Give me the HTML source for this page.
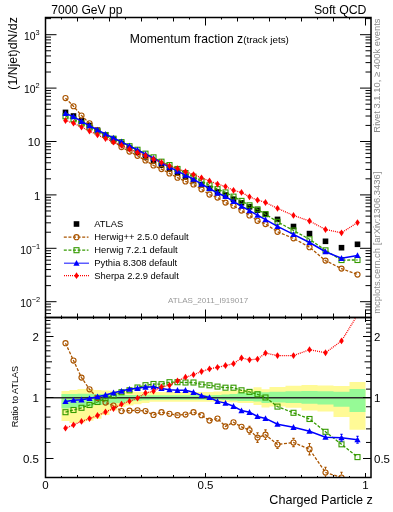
<!DOCTYPE html><html><head><meta charset="utf-8"><style>html,body{margin:0;padding:0;background:#fff;width:393px;height:512px;overflow:hidden;position:relative}</style></head><body><svg width="393" height="512" viewBox="0 0 393 512" style="position:absolute;left:0;top:0;will-change:transform">
<rect x="0" y="0" width="393" height="512" fill="#fff"/>
<path d="M61.50,390.90 L69.50,390.90 L69.50,389.90 L77.50,389.90 L77.50,389.10 L85.50,389.10 L85.50,389.10 L93.50,389.10 L93.50,390.10 L101.50,390.10 L101.50,390.50 L109.50,390.50 L109.50,390.80 L117.50,390.80 L117.50,391.10 L125.50,391.10 L125.50,391.40 L133.50,391.40 L133.50,391.70 L141.50,391.70 L141.50,391.90 L149.50,391.90 L149.50,392.00 L157.50,392.00 L157.50,392.00 L165.50,392.00 L165.50,392.00 L173.50,392.00 L173.50,392.00 L181.50,392.00 L181.50,392.00 L189.50,392.00 L189.50,392.00 L197.50,392.00 L197.50,392.00 L205.50,392.00 L205.50,392.00 L213.50,392.00 L213.50,391.40 L221.50,391.40 L221.50,391.00 L229.50,391.00 L229.50,390.50 L237.50,390.50 L237.50,389.70 L245.50,389.70 L245.50,389.70 L253.50,389.70 L253.50,387.20 L261.50,387.20 L261.50,389.20 L269.50,389.20 L269.50,386.90 L285.50,386.90 L285.50,385.80 L301.50,385.80 L301.50,385.10 L317.50,385.10 L317.50,385.50 L333.50,385.50 L333.50,386.00 L349.50,386.00 L349.50,382.10 L365.50,382.10 L365.50,429.70 L349.50,429.70 L349.50,417.00 L333.50,417.00 L333.50,411.60 L317.50,411.60 L317.50,410.50 L301.50,410.50 L301.50,407.80 L285.50,407.80 L285.50,406.50 L269.50,406.50 L269.50,407.50 L261.50,407.50 L261.50,404.90 L253.50,404.90 L253.50,403.00 L245.50,403.00 L245.50,402.90 L237.50,402.90 L237.50,402.30 L229.50,402.30 L229.50,402.00 L221.50,402.00 L221.50,401.80 L213.50,401.80 L213.50,401.70 L205.50,401.70 L205.50,401.70 L197.50,401.70 L197.50,401.70 L189.50,401.70 L189.50,401.70 L181.50,401.70 L181.50,401.70 L173.50,401.70 L173.50,401.70 L165.50,401.70 L165.50,401.70 L157.50,401.70 L157.50,401.70 L149.50,401.70 L149.50,403.00 L141.50,403.00 L141.50,404.30 L133.50,404.30 L133.50,405.50 L125.50,405.50 L125.50,407.00 L117.50,407.00 L117.50,410.50 L109.50,410.50 L109.50,415.00 L101.50,415.00 L101.50,418.70 L93.50,418.70 L93.50,420.70 L85.50,420.70 L85.50,422.50 L77.50,422.50 L77.50,423.00 L69.50,423.00 L69.50,421.00 L61.50,421.00Z" fill="#fffa96" stroke="none"/>
<path d="M61.50,394.00 L69.50,394.00 L69.50,393.90 L77.50,393.90 L77.50,393.80 L85.50,393.80 L85.50,393.80 L93.50,393.80 L93.50,394.00 L101.50,394.00 L101.50,394.30 L109.50,394.30 L109.50,394.60 L117.50,394.60 L117.50,394.80 L125.50,394.80 L125.50,395.00 L133.50,395.00 L133.50,395.10 L141.50,395.10 L141.50,395.20 L149.50,395.20 L149.50,395.20 L157.50,395.20 L157.50,395.20 L165.50,395.20 L165.50,395.20 L173.50,395.20 L173.50,395.20 L181.50,395.20 L181.50,395.20 L189.50,395.20 L189.50,395.20 L197.50,395.20 L197.50,395.20 L205.50,395.20 L205.50,395.20 L213.50,395.20 L213.50,395.00 L221.50,395.00 L221.50,394.50 L229.50,394.50 L229.50,394.00 L237.50,394.00 L237.50,392.70 L245.50,392.70 L245.50,392.70 L253.50,392.70 L253.50,391.20 L261.50,391.20 L261.50,392.20 L269.50,392.20 L269.50,391.80 L285.50,391.80 L285.50,391.30 L301.50,391.30 L301.50,390.90 L317.50,390.90 L317.50,391.30 L333.50,391.30 L333.50,391.80 L349.50,391.80 L349.50,389.00 L365.50,389.00 L365.50,411.90 L349.50,411.90 L349.50,406.70 L333.50,406.70 L333.50,404.60 L317.50,404.60 L317.50,403.80 L301.50,403.80 L301.50,403.00 L285.50,403.00 L285.50,402.40 L269.50,402.40 L269.50,402.90 L261.50,402.90 L261.50,401.40 L253.50,401.40 L253.50,401.00 L245.50,401.00 L245.50,400.90 L237.50,400.90 L237.50,400.40 L229.50,400.40 L229.50,400.00 L221.50,400.00 L221.50,399.80 L213.50,399.80 L213.50,399.70 L205.50,399.70 L205.50,399.70 L197.50,399.70 L197.50,399.70 L189.50,399.70 L189.50,399.70 L181.50,399.70 L181.50,399.70 L173.50,399.70 L173.50,399.70 L165.50,399.70 L165.50,399.70 L157.50,399.70 L157.50,399.70 L149.50,399.70 L149.50,400.30 L141.50,400.30 L141.50,400.80 L133.50,400.80 L133.50,401.30 L125.50,401.30 L125.50,402.90 L117.50,402.90 L117.50,403.30 L109.50,403.30 L109.50,404.70 L101.50,404.70 L101.50,405.10 L93.50,405.10 L93.50,406.50 L85.50,406.50 L85.50,407.30 L77.50,407.30 L77.50,408.00 L69.50,408.00 L69.50,408.50 L61.50,408.50Z" fill="#96fa96" stroke="none"/>
<line x1="45.5" y1="397.7" x2="371.0" y2="397.7" stroke="#2a2a2a" stroke-width="1.5"/>
<defs><clipPath id="cu"><rect x="45.5" y="17.5" width="325.5" height="300.0"/></clipPath>
<clipPath id="cl"><rect x="45.5" y="317.5" width="325.5" height="160.0"/></clipPath></defs>
<g clip-path="url(#cu)">
<rect x="62.70" y="109.60" width="5.6" height="5.6" fill="#000"/>
<rect x="70.70" y="113.20" width="5.6" height="5.6" fill="#000"/>
<rect x="78.70" y="118.00" width="5.6" height="5.6" fill="#000"/>
<rect x="86.70" y="122.70" width="5.6" height="5.6" fill="#000"/>
<rect x="94.70" y="127.40" width="5.6" height="5.6" fill="#000"/>
<rect x="102.70" y="132.00" width="5.6" height="5.6" fill="#000"/>
<rect x="110.70" y="136.40" width="5.6" height="5.6" fill="#000"/>
<rect x="118.70" y="140.70" width="5.6" height="5.6" fill="#000"/>
<rect x="126.70" y="145.30" width="5.6" height="5.6" fill="#000"/>
<rect x="134.70" y="149.60" width="5.6" height="5.6" fill="#000"/>
<rect x="142.70" y="154.10" width="5.6" height="5.6" fill="#000"/>
<rect x="150.70" y="158.10" width="5.6" height="5.6" fill="#000"/>
<rect x="158.70" y="162.40" width="5.6" height="5.6" fill="#000"/>
<rect x="166.70" y="166.30" width="5.6" height="5.6" fill="#000"/>
<rect x="174.70" y="170.20" width="5.6" height="5.6" fill="#000"/>
<rect x="182.70" y="174.20" width="5.6" height="5.6" fill="#000"/>
<rect x="190.70" y="177.80" width="5.6" height="5.6" fill="#000"/>
<rect x="198.70" y="181.90" width="5.6" height="5.6" fill="#000"/>
<rect x="206.70" y="185.70" width="5.6" height="5.6" fill="#000"/>
<rect x="214.70" y="189.20" width="5.6" height="5.6" fill="#000"/>
<rect x="222.70" y="192.20" width="5.6" height="5.6" fill="#000"/>
<rect x="230.70" y="196.40" width="5.6" height="5.6" fill="#000"/>
<rect x="238.70" y="200.00" width="5.6" height="5.6" fill="#000"/>
<rect x="246.70" y="204.00" width="5.6" height="5.6" fill="#000"/>
<rect x="254.70" y="207.40" width="5.6" height="5.6" fill="#000"/>
<rect x="262.70" y="211.40" width="5.6" height="5.6" fill="#000"/>
<rect x="274.70" y="216.60" width="5.6" height="5.6" fill="#000"/>
<rect x="290.70" y="223.70" width="5.6" height="5.6" fill="#000"/>
<rect x="306.70" y="230.80" width="5.6" height="5.6" fill="#000"/>
<rect x="322.70" y="238.50" width="5.6" height="5.6" fill="#000"/>
<rect x="338.70" y="244.90" width="5.6" height="5.6" fill="#000"/>
<rect x="354.70" y="241.50" width="5.6" height="5.6" fill="#000"/>
<path d="M65.50,98.09 L73.50,106.25 L81.50,115.55 L89.50,123.34 L97.50,130.33 L105.50,136.14 L113.50,141.31 L121.50,147.06 L129.50,151.55 L137.50,155.77 L145.50,160.46 L153.50,165.49 L161.50,169.07 L169.50,173.40 L177.50,177.67 L185.50,181.48 L193.50,184.47 L201.50,189.37 L209.50,194.59 L217.50,197.54 L225.50,202.62 L233.50,205.74 L241.50,210.52 L249.50,215.42 L257.50,220.77 L265.50,224.00 L277.50,231.79 L293.50,238.36 L309.50,247.23 L325.50,260.60 L341.50,268.60 L357.50,274.50" fill="none" stroke="#aa5500" stroke-width="1.3" stroke-dasharray="3,1.6" clip-path="url(#cu)"/>
<circle cx="65.50" cy="98.09" r="2.55" fill="none" stroke="#aa5500" stroke-width="1.15"/>
<circle cx="73.50" cy="106.25" r="2.55" fill="none" stroke="#aa5500" stroke-width="1.15"/>
<circle cx="81.50" cy="115.55" r="2.55" fill="none" stroke="#aa5500" stroke-width="1.15"/>
<circle cx="89.50" cy="123.34" r="2.55" fill="none" stroke="#aa5500" stroke-width="1.15"/>
<circle cx="97.50" cy="130.33" r="2.55" fill="none" stroke="#aa5500" stroke-width="1.15"/>
<circle cx="105.50" cy="136.14" r="2.55" fill="none" stroke="#aa5500" stroke-width="1.15"/>
<circle cx="113.50" cy="141.31" r="2.55" fill="none" stroke="#aa5500" stroke-width="1.15"/>
<circle cx="121.50" cy="147.06" r="2.55" fill="none" stroke="#aa5500" stroke-width="1.15"/>
<circle cx="129.50" cy="151.55" r="2.55" fill="none" stroke="#aa5500" stroke-width="1.15"/>
<circle cx="137.50" cy="155.77" r="2.55" fill="none" stroke="#aa5500" stroke-width="1.15"/>
<circle cx="145.50" cy="160.46" r="2.55" fill="none" stroke="#aa5500" stroke-width="1.15"/>
<circle cx="153.50" cy="165.49" r="2.55" fill="none" stroke="#aa5500" stroke-width="1.15"/>
<circle cx="161.50" cy="169.07" r="2.55" fill="none" stroke="#aa5500" stroke-width="1.15"/>
<circle cx="169.50" cy="173.40" r="2.55" fill="none" stroke="#aa5500" stroke-width="1.15"/>
<circle cx="177.50" cy="177.67" r="2.55" fill="none" stroke="#aa5500" stroke-width="1.15"/>
<circle cx="185.50" cy="181.48" r="2.55" fill="none" stroke="#aa5500" stroke-width="1.15"/>
<circle cx="193.50" cy="184.47" r="2.55" fill="none" stroke="#aa5500" stroke-width="1.15"/>
<circle cx="201.50" cy="189.37" r="2.55" fill="none" stroke="#aa5500" stroke-width="1.15"/>
<circle cx="209.50" cy="194.59" r="2.55" fill="none" stroke="#aa5500" stroke-width="1.15"/>
<circle cx="217.50" cy="197.54" r="2.55" fill="none" stroke="#aa5500" stroke-width="1.15"/>
<circle cx="225.50" cy="202.62" r="2.55" fill="none" stroke="#aa5500" stroke-width="1.15"/>
<circle cx="233.50" cy="205.74" r="2.55" fill="none" stroke="#aa5500" stroke-width="1.15"/>
<circle cx="241.50" cy="210.52" r="2.55" fill="none" stroke="#aa5500" stroke-width="1.15"/>
<circle cx="249.50" cy="215.42" r="2.55" fill="none" stroke="#aa5500" stroke-width="1.15"/>
<circle cx="257.50" cy="220.77" r="2.55" fill="none" stroke="#aa5500" stroke-width="1.15"/>
<circle cx="265.50" cy="224.00" r="2.55" fill="none" stroke="#aa5500" stroke-width="1.15"/>
<circle cx="277.50" cy="231.79" r="2.55" fill="none" stroke="#aa5500" stroke-width="1.15"/>
<circle cx="293.50" cy="238.36" r="2.55" fill="none" stroke="#aa5500" stroke-width="1.15"/>
<circle cx="309.50" cy="247.23" r="2.55" fill="none" stroke="#aa5500" stroke-width="1.15"/>
<circle cx="325.50" cy="260.60" r="2.55" fill="none" stroke="#aa5500" stroke-width="1.15"/>
<circle cx="341.50" cy="268.60" r="2.55" fill="none" stroke="#aa5500" stroke-width="1.15"/>
<circle cx="357.50" cy="274.50" r="2.55" fill="none" stroke="#aa5500" stroke-width="1.15"/>
<path d="M65.50,116.27 L73.50,119.29 L81.50,123.51 L89.50,127.48 L97.50,131.39 L105.50,135.01 L113.50,138.70 L121.50,142.10 L129.50,146.20 L137.50,149.76 L145.50,153.66 L153.50,157.34 L161.50,161.69 L169.50,165.07 L177.50,168.97 L185.50,173.05 L193.50,176.65 L201.50,181.27 L209.50,185.28 L217.50,189.13 L225.50,192.42 L233.50,196.62 L241.50,200.90 L249.50,205.32 L257.50,209.36 L265.50,214.20 L277.50,221.80 L293.50,230.53 L309.50,239.27 L325.50,250.34 L341.50,260.04 L357.50,260.01" fill="none" stroke="#359a00" stroke-width="1.3" stroke-dasharray="3,1.6" clip-path="url(#cu)"/>
<rect x="63.00" y="113.77" width="5" height="5" fill="none" stroke="#359a00" stroke-width="1.1"/>
<rect x="71.00" y="116.79" width="5" height="5" fill="none" stroke="#359a00" stroke-width="1.1"/>
<rect x="79.00" y="121.01" width="5" height="5" fill="none" stroke="#359a00" stroke-width="1.1"/>
<rect x="87.00" y="124.98" width="5" height="5" fill="none" stroke="#359a00" stroke-width="1.1"/>
<rect x="95.00" y="128.89" width="5" height="5" fill="none" stroke="#359a00" stroke-width="1.1"/>
<rect x="103.00" y="132.51" width="5" height="5" fill="none" stroke="#359a00" stroke-width="1.1"/>
<rect x="111.00" y="136.20" width="5" height="5" fill="none" stroke="#359a00" stroke-width="1.1"/>
<rect x="119.00" y="139.60" width="5" height="5" fill="none" stroke="#359a00" stroke-width="1.1"/>
<rect x="127.00" y="143.70" width="5" height="5" fill="none" stroke="#359a00" stroke-width="1.1"/>
<rect x="135.00" y="147.26" width="5" height="5" fill="none" stroke="#359a00" stroke-width="1.1"/>
<rect x="143.00" y="151.16" width="5" height="5" fill="none" stroke="#359a00" stroke-width="1.1"/>
<rect x="151.00" y="154.84" width="5" height="5" fill="none" stroke="#359a00" stroke-width="1.1"/>
<rect x="159.00" y="159.19" width="5" height="5" fill="none" stroke="#359a00" stroke-width="1.1"/>
<rect x="167.00" y="162.57" width="5" height="5" fill="none" stroke="#359a00" stroke-width="1.1"/>
<rect x="175.00" y="166.47" width="5" height="5" fill="none" stroke="#359a00" stroke-width="1.1"/>
<rect x="183.00" y="170.55" width="5" height="5" fill="none" stroke="#359a00" stroke-width="1.1"/>
<rect x="191.00" y="174.15" width="5" height="5" fill="none" stroke="#359a00" stroke-width="1.1"/>
<rect x="199.00" y="178.77" width="5" height="5" fill="none" stroke="#359a00" stroke-width="1.1"/>
<rect x="207.00" y="182.78" width="5" height="5" fill="none" stroke="#359a00" stroke-width="1.1"/>
<rect x="215.00" y="186.63" width="5" height="5" fill="none" stroke="#359a00" stroke-width="1.1"/>
<rect x="223.00" y="189.92" width="5" height="5" fill="none" stroke="#359a00" stroke-width="1.1"/>
<rect x="231.00" y="194.12" width="5" height="5" fill="none" stroke="#359a00" stroke-width="1.1"/>
<rect x="239.00" y="198.40" width="5" height="5" fill="none" stroke="#359a00" stroke-width="1.1"/>
<rect x="247.00" y="202.82" width="5" height="5" fill="none" stroke="#359a00" stroke-width="1.1"/>
<rect x="255.00" y="206.86" width="5" height="5" fill="none" stroke="#359a00" stroke-width="1.1"/>
<rect x="263.00" y="211.70" width="5" height="5" fill="none" stroke="#359a00" stroke-width="1.1"/>
<rect x="275.00" y="219.30" width="5" height="5" fill="none" stroke="#359a00" stroke-width="1.1"/>
<rect x="291.00" y="228.03" width="5" height="5" fill="none" stroke="#359a00" stroke-width="1.1"/>
<rect x="307.00" y="236.77" width="5" height="5" fill="none" stroke="#359a00" stroke-width="1.1"/>
<rect x="323.00" y="247.84" width="5" height="5" fill="none" stroke="#359a00" stroke-width="1.1"/>
<rect x="339.00" y="257.54" width="5" height="5" fill="none" stroke="#359a00" stroke-width="1.1"/>
<rect x="355.00" y="257.51" width="5" height="5" fill="none" stroke="#359a00" stroke-width="1.1"/>
<path d="M65.50,113.43 L73.50,116.71 L81.50,121.41 L89.50,125.74 L97.50,129.99 L105.50,134.11 L113.50,137.96 L121.50,141.81 L129.50,145.89 L137.50,149.98 L145.50,154.16 L153.50,158.11 L161.50,162.80 L169.50,167.04 L177.50,171.10 L185.50,175.10 L193.50,179.23 L201.50,184.20 L209.50,188.50 L217.50,193.03 L225.50,196.48 L233.50,201.52 L241.50,206.25 L249.50,210.70 L257.50,215.21 L265.50,219.71 L277.50,226.44 L293.50,234.35 L309.50,242.48 L325.50,251.76 L341.50,258.30 L357.50,255.42" fill="none" stroke="#0000ff" stroke-width="1.5" stroke-dasharray="none" clip-path="url(#cu)"/>
<path d="M65.50,110.23 L68.60,116.03 L62.40,116.03Z" fill="#0000ff"/>
<path d="M73.50,113.51 L76.60,119.31 L70.40,119.31Z" fill="#0000ff"/>
<path d="M81.50,118.21 L84.60,124.01 L78.40,124.01Z" fill="#0000ff"/>
<path d="M89.50,122.54 L92.60,128.34 L86.40,128.34Z" fill="#0000ff"/>
<path d="M97.50,126.79 L100.60,132.59 L94.40,132.59Z" fill="#0000ff"/>
<path d="M105.50,130.91 L108.60,136.71 L102.40,136.71Z" fill="#0000ff"/>
<path d="M113.50,134.76 L116.60,140.56 L110.40,140.56Z" fill="#0000ff"/>
<path d="M121.50,138.61 L124.60,144.41 L118.40,144.41Z" fill="#0000ff"/>
<path d="M129.50,142.69 L132.60,148.49 L126.40,148.49Z" fill="#0000ff"/>
<path d="M137.50,146.78 L140.60,152.58 L134.40,152.58Z" fill="#0000ff"/>
<path d="M145.50,150.96 L148.60,156.76 L142.40,156.76Z" fill="#0000ff"/>
<path d="M153.50,154.91 L156.60,160.71 L150.40,160.71Z" fill="#0000ff"/>
<path d="M161.50,159.60 L164.60,165.40 L158.40,165.40Z" fill="#0000ff"/>
<path d="M169.50,163.84 L172.60,169.64 L166.40,169.64Z" fill="#0000ff"/>
<path d="M177.50,167.90 L180.60,173.70 L174.40,173.70Z" fill="#0000ff"/>
<path d="M185.50,171.90 L188.60,177.70 L182.40,177.70Z" fill="#0000ff"/>
<path d="M193.50,176.03 L196.60,181.83 L190.40,181.83Z" fill="#0000ff"/>
<path d="M201.50,181.00 L204.60,186.80 L198.40,186.80Z" fill="#0000ff"/>
<path d="M209.50,185.30 L212.60,191.10 L206.40,191.10Z" fill="#0000ff"/>
<path d="M217.50,189.83 L220.60,195.63 L214.40,195.63Z" fill="#0000ff"/>
<path d="M225.50,193.28 L228.60,199.08 L222.40,199.08Z" fill="#0000ff"/>
<path d="M233.50,198.32 L236.60,204.12 L230.40,204.12Z" fill="#0000ff"/>
<path d="M241.50,203.05 L244.60,208.85 L238.40,208.85Z" fill="#0000ff"/>
<path d="M249.50,207.50 L252.60,213.30 L246.40,213.30Z" fill="#0000ff"/>
<path d="M257.50,212.01 L260.60,217.81 L254.40,217.81Z" fill="#0000ff"/>
<path d="M265.50,216.51 L268.60,222.31 L262.40,222.31Z" fill="#0000ff"/>
<path d="M277.50,223.24 L280.60,229.04 L274.40,229.04Z" fill="#0000ff"/>
<path d="M293.50,231.15 L296.60,236.95 L290.40,236.95Z" fill="#0000ff"/>
<path d="M309.50,239.28 L312.60,245.08 L306.40,245.08Z" fill="#0000ff"/>
<path d="M325.50,248.56 L328.60,254.36 L322.40,254.36Z" fill="#0000ff"/>
<path d="M341.50,255.10 L344.60,260.90 L338.40,260.90Z" fill="#0000ff"/>
<path d="M357.50,252.22 L360.60,258.02 L354.40,258.02Z" fill="#0000ff"/>
<path d="M65.50,120.49 L73.50,123.22 L81.50,127.10 L89.50,131.06 L97.50,134.94 L105.50,138.62 L113.50,142.10 L121.50,145.27 L129.50,149.08 L137.50,152.58 L145.50,155.71 L153.50,159.24 L161.50,162.41 L169.50,165.88 L177.50,168.62 L185.50,171.65 L193.50,174.59 L201.50,177.85 L209.50,180.96 L217.50,184.04 L225.50,186.57 L233.50,190.29 L241.50,192.39 L249.50,196.86 L257.50,200.08 L265.50,202.50 L277.50,208.36 L293.50,215.46 L309.50,221.00 L325.50,229.51 L341.50,232.78 L357.50,222.53" fill="none" stroke="#ff0000" stroke-width="1.3" stroke-dasharray="1,1" clip-path="url(#cu)"/>
<path d="M65.50,117.09 L67.80,120.49 L65.50,123.89 L63.20,120.49Z" fill="#ff0000"/>
<path d="M73.50,119.82 L75.80,123.22 L73.50,126.62 L71.20,123.22Z" fill="#ff0000"/>
<path d="M81.50,123.70 L83.80,127.10 L81.50,130.50 L79.20,127.10Z" fill="#ff0000"/>
<path d="M89.50,127.66 L91.80,131.06 L89.50,134.46 L87.20,131.06Z" fill="#ff0000"/>
<path d="M97.50,131.54 L99.80,134.94 L97.50,138.34 L95.20,134.94Z" fill="#ff0000"/>
<path d="M105.50,135.22 L107.80,138.62 L105.50,142.02 L103.20,138.62Z" fill="#ff0000"/>
<path d="M113.50,138.70 L115.80,142.10 L113.50,145.50 L111.20,142.10Z" fill="#ff0000"/>
<path d="M121.50,141.87 L123.80,145.27 L121.50,148.67 L119.20,145.27Z" fill="#ff0000"/>
<path d="M129.50,145.68 L131.80,149.08 L129.50,152.48 L127.20,149.08Z" fill="#ff0000"/>
<path d="M137.50,149.18 L139.80,152.58 L137.50,155.98 L135.20,152.58Z" fill="#ff0000"/>
<path d="M145.50,152.31 L147.80,155.71 L145.50,159.11 L143.20,155.71Z" fill="#ff0000"/>
<path d="M153.50,155.84 L155.80,159.24 L153.50,162.64 L151.20,159.24Z" fill="#ff0000"/>
<path d="M161.50,159.01 L163.80,162.41 L161.50,165.81 L159.20,162.41Z" fill="#ff0000"/>
<path d="M169.50,162.48 L171.80,165.88 L169.50,169.28 L167.20,165.88Z" fill="#ff0000"/>
<path d="M177.50,165.22 L179.80,168.62 L177.50,172.02 L175.20,168.62Z" fill="#ff0000"/>
<path d="M185.50,168.25 L187.80,171.65 L185.50,175.05 L183.20,171.65Z" fill="#ff0000"/>
<path d="M193.50,171.19 L195.80,174.59 L193.50,177.99 L191.20,174.59Z" fill="#ff0000"/>
<path d="M201.50,174.45 L203.80,177.85 L201.50,181.25 L199.20,177.85Z" fill="#ff0000"/>
<path d="M209.50,177.56 L211.80,180.96 L209.50,184.36 L207.20,180.96Z" fill="#ff0000"/>
<path d="M217.50,180.64 L219.80,184.04 L217.50,187.44 L215.20,184.04Z" fill="#ff0000"/>
<path d="M225.50,183.17 L227.80,186.57 L225.50,189.97 L223.20,186.57Z" fill="#ff0000"/>
<path d="M233.50,186.89 L235.80,190.29 L233.50,193.69 L231.20,190.29Z" fill="#ff0000"/>
<path d="M241.50,188.99 L243.80,192.39 L241.50,195.79 L239.20,192.39Z" fill="#ff0000"/>
<path d="M249.50,193.46 L251.80,196.86 L249.50,200.26 L247.20,196.86Z" fill="#ff0000"/>
<path d="M257.50,196.68 L259.80,200.08 L257.50,203.48 L255.20,200.08Z" fill="#ff0000"/>
<path d="M265.50,199.10 L267.80,202.50 L265.50,205.90 L263.20,202.50Z" fill="#ff0000"/>
<path d="M277.50,204.96 L279.80,208.36 L277.50,211.76 L275.20,208.36Z" fill="#ff0000"/>
<path d="M293.50,212.06 L295.80,215.46 L293.50,218.86 L291.20,215.46Z" fill="#ff0000"/>
<path d="M309.50,217.60 L311.80,221.00 L309.50,224.40 L307.20,221.00Z" fill="#ff0000"/>
<path d="M325.50,226.11 L327.80,229.51 L325.50,232.91 L323.20,229.51Z" fill="#ff0000"/>
<path d="M341.50,229.38 L343.80,232.78 L341.50,236.18 L339.20,232.78Z" fill="#ff0000"/>
<path d="M357.50,219.13 L359.80,222.53 L357.50,225.93 L355.20,222.53Z" fill="#ff0000"/>
</g>
<g clip-path="url(#cl)">
<path d="M65.50,343.20 L73.50,360.50 L81.50,377.60 L89.50,389.30 L97.50,398.00 L105.50,402.60 L113.50,405.50 L121.50,411.00 L129.50,410.60 L137.50,410.30 L145.50,411.00 L153.50,414.90 L161.50,412.20 L169.50,413.80 L177.50,415.20 L185.50,414.50 L193.50,412.20 L201.50,415.20 L209.50,420.60 L217.50,418.50 L225.50,426.40 L233.50,422.30 L241.50,426.80 L249.50,430.20 L257.50,437.60 L265.50,434.70 L277.50,444.50 L293.50,442.50 L309.50,449.20 L325.50,472.50 L341.50,477.50" fill="none" stroke="#aa5500" stroke-width="1.3" stroke-dasharray="3,1.6" clip-path="url(#cl)"/>
<circle cx="65.50" cy="343.20" r="2.55" fill="none" stroke="#aa5500" stroke-width="1.15"/>
<circle cx="73.50" cy="360.50" r="2.55" fill="none" stroke="#aa5500" stroke-width="1.15"/>
<circle cx="81.50" cy="377.60" r="2.55" fill="none" stroke="#aa5500" stroke-width="1.15"/>
<circle cx="89.50" cy="389.30" r="2.55" fill="none" stroke="#aa5500" stroke-width="1.15"/>
<circle cx="97.50" cy="398.00" r="2.55" fill="none" stroke="#aa5500" stroke-width="1.15"/>
<circle cx="105.50" cy="402.60" r="2.55" fill="none" stroke="#aa5500" stroke-width="1.15"/>
<circle cx="113.50" cy="405.50" r="2.55" fill="none" stroke="#aa5500" stroke-width="1.15"/>
<circle cx="121.50" cy="411.00" r="2.55" fill="none" stroke="#aa5500" stroke-width="1.15"/>
<circle cx="129.50" cy="410.60" r="2.55" fill="none" stroke="#aa5500" stroke-width="1.15"/>
<circle cx="137.50" cy="410.30" r="2.55" fill="none" stroke="#aa5500" stroke-width="1.15"/>
<circle cx="145.50" cy="411.00" r="2.55" fill="none" stroke="#aa5500" stroke-width="1.15"/>
<circle cx="153.50" cy="414.90" r="2.55" fill="none" stroke="#aa5500" stroke-width="1.15"/>
<circle cx="161.50" cy="412.20" r="2.55" fill="none" stroke="#aa5500" stroke-width="1.15"/>
<circle cx="169.50" cy="413.80" r="2.55" fill="none" stroke="#aa5500" stroke-width="1.15"/>
<circle cx="177.50" cy="415.20" r="2.55" fill="none" stroke="#aa5500" stroke-width="1.15"/>
<circle cx="185.50" cy="414.50" r="2.55" fill="none" stroke="#aa5500" stroke-width="1.15"/>
<circle cx="193.50" cy="412.20" r="2.55" fill="none" stroke="#aa5500" stroke-width="1.15"/>
<circle cx="201.50" cy="415.20" r="2.55" fill="none" stroke="#aa5500" stroke-width="1.15"/>
<circle cx="209.50" cy="420.60" r="2.55" fill="none" stroke="#aa5500" stroke-width="1.15"/>
<circle cx="217.50" cy="418.50" r="2.55" fill="none" stroke="#aa5500" stroke-width="1.15"/>
<circle cx="225.50" cy="426.40" r="2.55" fill="none" stroke="#aa5500" stroke-width="1.15"/>
<circle cx="233.50" cy="422.30" r="2.55" fill="none" stroke="#aa5500" stroke-width="1.15"/>
<circle cx="241.50" cy="426.80" r="2.55" fill="none" stroke="#aa5500" stroke-width="1.15"/>
<circle cx="249.50" cy="430.20" r="2.55" fill="none" stroke="#aa5500" stroke-width="1.15"/>
<circle cx="257.50" cy="437.60" r="2.55" fill="none" stroke="#aa5500" stroke-width="1.15"/>
<circle cx="265.50" cy="434.70" r="2.55" fill="none" stroke="#aa5500" stroke-width="1.15"/>
<circle cx="277.50" cy="444.50" r="2.55" fill="none" stroke="#aa5500" stroke-width="1.15"/>
<circle cx="293.50" cy="442.50" r="2.55" fill="none" stroke="#aa5500" stroke-width="1.15"/>
<circle cx="309.50" cy="449.20" r="2.55" fill="none" stroke="#aa5500" stroke-width="1.15"/>
<circle cx="325.50" cy="472.50" r="2.55" fill="none" stroke="#aa5500" stroke-width="1.15"/>
<circle cx="341.50" cy="477.50" r="2.55" fill="none" stroke="#aa5500" stroke-width="1.15"/>
<path d="M65.50,412.20 L73.50,410.00 L81.50,407.80 L89.50,405.00 L97.50,402.00 L105.50,398.30 L113.50,395.60 L121.50,392.20 L129.50,390.30 L137.50,387.50 L145.50,385.20 L153.50,384.00 L161.50,384.20 L169.50,382.20 L177.50,382.20 L185.50,382.50 L193.50,382.50 L201.50,384.50 L209.50,385.30 L217.50,386.60 L225.50,387.70 L233.50,387.70 L241.50,390.30 L249.50,391.90 L257.50,394.30 L265.50,397.50 L277.50,406.60 L293.50,412.80 L309.50,419.00 L325.50,431.80 L341.50,444.30 L357.50,457.10" fill="none" stroke="#359a00" stroke-width="1.3" stroke-dasharray="3,1.6" clip-path="url(#cl)"/>
<rect x="63.00" y="409.70" width="5" height="5" fill="none" stroke="#359a00" stroke-width="1.1"/>
<rect x="71.00" y="407.50" width="5" height="5" fill="none" stroke="#359a00" stroke-width="1.1"/>
<rect x="79.00" y="405.30" width="5" height="5" fill="none" stroke="#359a00" stroke-width="1.1"/>
<rect x="87.00" y="402.50" width="5" height="5" fill="none" stroke="#359a00" stroke-width="1.1"/>
<rect x="95.00" y="399.50" width="5" height="5" fill="none" stroke="#359a00" stroke-width="1.1"/>
<rect x="103.00" y="395.80" width="5" height="5" fill="none" stroke="#359a00" stroke-width="1.1"/>
<rect x="111.00" y="393.10" width="5" height="5" fill="none" stroke="#359a00" stroke-width="1.1"/>
<rect x="119.00" y="389.70" width="5" height="5" fill="none" stroke="#359a00" stroke-width="1.1"/>
<rect x="127.00" y="387.80" width="5" height="5" fill="none" stroke="#359a00" stroke-width="1.1"/>
<rect x="135.00" y="385.00" width="5" height="5" fill="none" stroke="#359a00" stroke-width="1.1"/>
<rect x="143.00" y="382.70" width="5" height="5" fill="none" stroke="#359a00" stroke-width="1.1"/>
<rect x="151.00" y="381.50" width="5" height="5" fill="none" stroke="#359a00" stroke-width="1.1"/>
<rect x="159.00" y="381.70" width="5" height="5" fill="none" stroke="#359a00" stroke-width="1.1"/>
<rect x="167.00" y="379.70" width="5" height="5" fill="none" stroke="#359a00" stroke-width="1.1"/>
<rect x="175.00" y="379.70" width="5" height="5" fill="none" stroke="#359a00" stroke-width="1.1"/>
<rect x="183.00" y="380.00" width="5" height="5" fill="none" stroke="#359a00" stroke-width="1.1"/>
<rect x="191.00" y="380.00" width="5" height="5" fill="none" stroke="#359a00" stroke-width="1.1"/>
<rect x="199.00" y="382.00" width="5" height="5" fill="none" stroke="#359a00" stroke-width="1.1"/>
<rect x="207.00" y="382.80" width="5" height="5" fill="none" stroke="#359a00" stroke-width="1.1"/>
<rect x="215.00" y="384.10" width="5" height="5" fill="none" stroke="#359a00" stroke-width="1.1"/>
<rect x="223.00" y="385.20" width="5" height="5" fill="none" stroke="#359a00" stroke-width="1.1"/>
<rect x="231.00" y="385.20" width="5" height="5" fill="none" stroke="#359a00" stroke-width="1.1"/>
<rect x="239.00" y="387.80" width="5" height="5" fill="none" stroke="#359a00" stroke-width="1.1"/>
<rect x="247.00" y="389.40" width="5" height="5" fill="none" stroke="#359a00" stroke-width="1.1"/>
<rect x="255.00" y="391.80" width="5" height="5" fill="none" stroke="#359a00" stroke-width="1.1"/>
<rect x="263.00" y="395.00" width="5" height="5" fill="none" stroke="#359a00" stroke-width="1.1"/>
<rect x="275.00" y="404.10" width="5" height="5" fill="none" stroke="#359a00" stroke-width="1.1"/>
<rect x="291.00" y="410.30" width="5" height="5" fill="none" stroke="#359a00" stroke-width="1.1"/>
<rect x="307.00" y="416.50" width="5" height="5" fill="none" stroke="#359a00" stroke-width="1.1"/>
<rect x="323.00" y="429.30" width="5" height="5" fill="none" stroke="#359a00" stroke-width="1.1"/>
<rect x="339.00" y="441.80" width="5" height="5" fill="none" stroke="#359a00" stroke-width="1.1"/>
<rect x="355.00" y="454.60" width="5" height="5" fill="none" stroke="#359a00" stroke-width="1.1"/>
<path d="M65.50,401.40 L73.50,400.20 L81.50,399.80 L89.50,398.40 L97.50,396.70 L105.50,394.90 L113.50,392.80 L121.50,391.10 L129.50,389.10 L137.50,388.30 L145.50,387.10 L153.50,386.90 L161.50,388.40 L169.50,389.70 L177.50,390.30 L185.50,390.30 L193.50,392.30 L201.50,395.60 L209.50,397.50 L217.50,401.40 L225.50,403.10 L233.50,406.30 L241.50,410.60 L249.50,412.30 L257.50,416.50 L265.50,418.40 L277.50,424.20 L293.50,427.30 L309.50,431.20 L325.50,437.20 L341.50,437.70 L357.50,439.70" fill="none" stroke="#0000ff" stroke-width="1.5" stroke-dasharray="none" clip-path="url(#cl)"/>
<path d="M65.50,398.20 L68.60,404.00 L62.40,404.00Z" fill="#0000ff"/>
<path d="M73.50,397.00 L76.60,402.80 L70.40,402.80Z" fill="#0000ff"/>
<path d="M81.50,396.60 L84.60,402.40 L78.40,402.40Z" fill="#0000ff"/>
<path d="M89.50,395.20 L92.60,401.00 L86.40,401.00Z" fill="#0000ff"/>
<path d="M97.50,393.50 L100.60,399.30 L94.40,399.30Z" fill="#0000ff"/>
<path d="M105.50,391.70 L108.60,397.50 L102.40,397.50Z" fill="#0000ff"/>
<path d="M113.50,389.60 L116.60,395.40 L110.40,395.40Z" fill="#0000ff"/>
<path d="M121.50,387.90 L124.60,393.70 L118.40,393.70Z" fill="#0000ff"/>
<path d="M129.50,385.90 L132.60,391.70 L126.40,391.70Z" fill="#0000ff"/>
<path d="M137.50,385.10 L140.60,390.90 L134.40,390.90Z" fill="#0000ff"/>
<path d="M145.50,383.90 L148.60,389.70 L142.40,389.70Z" fill="#0000ff"/>
<path d="M153.50,383.70 L156.60,389.50 L150.40,389.50Z" fill="#0000ff"/>
<path d="M161.50,385.20 L164.60,391.00 L158.40,391.00Z" fill="#0000ff"/>
<path d="M169.50,386.50 L172.60,392.30 L166.40,392.30Z" fill="#0000ff"/>
<path d="M177.50,387.10 L180.60,392.90 L174.40,392.90Z" fill="#0000ff"/>
<path d="M185.50,387.10 L188.60,392.90 L182.40,392.90Z" fill="#0000ff"/>
<path d="M193.50,389.10 L196.60,394.90 L190.40,394.90Z" fill="#0000ff"/>
<path d="M201.50,392.40 L204.60,398.20 L198.40,398.20Z" fill="#0000ff"/>
<path d="M209.50,394.30 L212.60,400.10 L206.40,400.10Z" fill="#0000ff"/>
<path d="M217.50,398.20 L220.60,404.00 L214.40,404.00Z" fill="#0000ff"/>
<path d="M225.50,399.90 L228.60,405.70 L222.40,405.70Z" fill="#0000ff"/>
<path d="M233.50,403.10 L236.60,408.90 L230.40,408.90Z" fill="#0000ff"/>
<path d="M241.50,407.40 L244.60,413.20 L238.40,413.20Z" fill="#0000ff"/>
<path d="M249.50,409.10 L252.60,414.90 L246.40,414.90Z" fill="#0000ff"/>
<path d="M257.50,413.30 L260.60,419.10 L254.40,419.10Z" fill="#0000ff"/>
<path d="M265.50,415.20 L268.60,421.00 L262.40,421.00Z" fill="#0000ff"/>
<path d="M277.50,421.00 L280.60,426.80 L274.40,426.80Z" fill="#0000ff"/>
<path d="M293.50,424.10 L296.60,429.90 L290.40,429.90Z" fill="#0000ff"/>
<path d="M309.50,428.00 L312.60,433.80 L306.40,433.80Z" fill="#0000ff"/>
<path d="M325.50,434.00 L328.60,439.80 L322.40,439.80Z" fill="#0000ff"/>
<path d="M341.50,434.50 L344.60,440.30 L338.40,440.30Z" fill="#0000ff"/>
<path d="M357.50,436.50 L360.60,442.30 L354.40,442.30Z" fill="#0000ff"/>
<path d="M65.50,428.20 L73.50,424.90 L81.50,421.40 L89.50,418.60 L97.50,415.50 L105.50,412.00 L113.50,408.50 L121.50,404.20 L129.50,401.20 L137.50,398.20 L145.50,393.00 L153.50,391.20 L161.50,386.90 L169.50,385.30 L177.50,380.90 L185.50,377.20 L193.50,374.70 L201.50,371.50 L209.50,368.90 L217.50,367.30 L225.50,365.50 L233.50,363.70 L241.50,358.00 L249.50,359.80 L257.50,359.10 L265.50,353.10 L277.50,355.60 L293.50,355.60 L309.50,349.70 L325.50,352.75 L341.50,340.90 L357.50,314.90" fill="none" stroke="#ff0000" stroke-width="1.3" stroke-dasharray="1,1" clip-path="url(#cl)"/>
<path d="M65.50,424.80 L67.80,428.20 L65.50,431.60 L63.20,428.20Z" fill="#ff0000"/>
<path d="M73.50,421.50 L75.80,424.90 L73.50,428.30 L71.20,424.90Z" fill="#ff0000"/>
<path d="M81.50,418.00 L83.80,421.40 L81.50,424.80 L79.20,421.40Z" fill="#ff0000"/>
<path d="M89.50,415.20 L91.80,418.60 L89.50,422.00 L87.20,418.60Z" fill="#ff0000"/>
<path d="M97.50,412.10 L99.80,415.50 L97.50,418.90 L95.20,415.50Z" fill="#ff0000"/>
<path d="M105.50,408.60 L107.80,412.00 L105.50,415.40 L103.20,412.00Z" fill="#ff0000"/>
<path d="M113.50,405.10 L115.80,408.50 L113.50,411.90 L111.20,408.50Z" fill="#ff0000"/>
<path d="M121.50,400.80 L123.80,404.20 L121.50,407.60 L119.20,404.20Z" fill="#ff0000"/>
<path d="M129.50,397.80 L131.80,401.20 L129.50,404.60 L127.20,401.20Z" fill="#ff0000"/>
<path d="M137.50,394.80 L139.80,398.20 L137.50,401.60 L135.20,398.20Z" fill="#ff0000"/>
<path d="M145.50,389.60 L147.80,393.00 L145.50,396.40 L143.20,393.00Z" fill="#ff0000"/>
<path d="M153.50,387.80 L155.80,391.20 L153.50,394.60 L151.20,391.20Z" fill="#ff0000"/>
<path d="M161.50,383.50 L163.80,386.90 L161.50,390.30 L159.20,386.90Z" fill="#ff0000"/>
<path d="M169.50,381.90 L171.80,385.30 L169.50,388.70 L167.20,385.30Z" fill="#ff0000"/>
<path d="M177.50,377.50 L179.80,380.90 L177.50,384.30 L175.20,380.90Z" fill="#ff0000"/>
<path d="M185.50,373.80 L187.80,377.20 L185.50,380.60 L183.20,377.20Z" fill="#ff0000"/>
<path d="M193.50,371.30 L195.80,374.70 L193.50,378.10 L191.20,374.70Z" fill="#ff0000"/>
<path d="M201.50,368.10 L203.80,371.50 L201.50,374.90 L199.20,371.50Z" fill="#ff0000"/>
<path d="M209.50,365.50 L211.80,368.90 L209.50,372.30 L207.20,368.90Z" fill="#ff0000"/>
<path d="M217.50,363.90 L219.80,367.30 L217.50,370.70 L215.20,367.30Z" fill="#ff0000"/>
<path d="M225.50,362.10 L227.80,365.50 L225.50,368.90 L223.20,365.50Z" fill="#ff0000"/>
<path d="M233.50,360.30 L235.80,363.70 L233.50,367.10 L231.20,363.70Z" fill="#ff0000"/>
<path d="M241.50,354.60 L243.80,358.00 L241.50,361.40 L239.20,358.00Z" fill="#ff0000"/>
<path d="M249.50,356.40 L251.80,359.80 L249.50,363.20 L247.20,359.80Z" fill="#ff0000"/>
<path d="M257.50,355.70 L259.80,359.10 L257.50,362.50 L255.20,359.10Z" fill="#ff0000"/>
<path d="M265.50,349.70 L267.80,353.10 L265.50,356.50 L263.20,353.10Z" fill="#ff0000"/>
<path d="M277.50,352.20 L279.80,355.60 L277.50,359.00 L275.20,355.60Z" fill="#ff0000"/>
<path d="M293.50,352.20 L295.80,355.60 L293.50,359.00 L291.20,355.60Z" fill="#ff0000"/>
<path d="M309.50,346.30 L311.80,349.70 L309.50,353.10 L307.20,349.70Z" fill="#ff0000"/>
<path d="M325.50,349.35 L327.80,352.75 L325.50,356.15 L323.20,352.75Z" fill="#ff0000"/>
<path d="M341.50,337.50 L343.80,340.90 L341.50,344.30 L339.20,340.90Z" fill="#ff0000"/>
<path d="M357.50,311.50 L359.80,314.90 L357.50,318.30 L355.20,314.90Z" fill="#ff0000"/>
</g>
<path d="M249.50,426.30 V427.20 M249.50,433.20 V434.10 M248.30,426.30 h2.4 M248.30,434.10 h2.4" stroke="#aa5500" stroke-width="1.1" fill="none" clip-path="url(#cl)"/>
<path d="M257.50,432.80 V434.60 M257.50,440.60 V442.40 M256.30,432.80 h2.4 M256.30,442.40 h2.4" stroke="#aa5500" stroke-width="1.1" fill="none" clip-path="url(#cl)"/>
<path d="M265.50,429.90 V431.70 M265.50,437.70 V439.50 M264.30,429.90 h2.4 M264.30,439.50 h2.4" stroke="#aa5500" stroke-width="1.1" fill="none" clip-path="url(#cl)"/>
<path d="M277.50,440.50 V441.50 M277.50,447.50 V448.50 M276.30,440.50 h2.4 M276.30,448.50 h2.4" stroke="#aa5500" stroke-width="1.1" fill="none" clip-path="url(#cl)"/>
<path d="M293.50,438.40 V439.50 M293.50,445.50 V446.60 M292.30,438.40 h2.4 M292.30,446.60 h2.4" stroke="#aa5500" stroke-width="1.1" fill="none" clip-path="url(#cl)"/>
<path d="M309.50,443.50 V446.20 M309.50,452.20 V454.90 M308.30,443.50 h2.4 M308.30,454.90 h2.4" stroke="#aa5500" stroke-width="1.1" fill="none" clip-path="url(#cl)"/>
<path d="M325.50,467.20 V469.50 M325.50,475.50 V477.80 M324.30,467.20 h2.4 M324.30,477.80 h2.4" stroke="#aa5500" stroke-width="1.1" fill="none" clip-path="url(#cl)"/>
<path d="M341.50,472.20 V474.50 M341.50,480.50 V482.80 M340.30,472.20 h2.4 M340.30,482.80 h2.4" stroke="#aa5500" stroke-width="1.1" fill="none" clip-path="url(#cl)"/>
<path d="M341.50,434.30 V435.10 M341.50,440.30 V441.10 M340.30,434.30 h2.4 M340.30,441.10 h2.4" stroke="#0000ff" stroke-width="1.1" fill="none" clip-path="url(#cl)"/>
<path d="M357.50,436.30 V437.10 M357.50,442.30 V443.10 M356.30,436.30 h2.4 M356.30,443.10 h2.4" stroke="#0000ff" stroke-width="1.1" fill="none" clip-path="url(#cl)"/>
<rect x="45.5" y="17.5" width="325.5" height="300.0" fill="none" stroke="#000" stroke-width="1.5"/>
<rect x="45.5" y="317.5" width="325.5" height="160.0" fill="none" stroke="#000" stroke-width="1.5"/>
<path d="M45.50,17.5 v8 M45.50,317.5 v-8 M45.50,317.5 v4.5 M45.50,477.5 v-4.5 M61.50,17.5 v2 M61.50,317.5 v-2 M61.50,317.5 v1.5 M61.50,477.5 v-1.5 M77.50,17.5 v4 M77.50,317.5 v-4 M77.50,317.5 v2.5 M77.50,477.5 v-2.5 M93.50,17.5 v2 M93.50,317.5 v-2 M93.50,317.5 v1.5 M93.50,477.5 v-1.5 M109.50,17.5 v4 M109.50,317.5 v-4 M109.50,317.5 v2.5 M109.50,477.5 v-2.5 M125.50,17.5 v2 M125.50,317.5 v-2 M125.50,317.5 v1.5 M125.50,477.5 v-1.5 M141.50,17.5 v4 M141.50,317.5 v-4 M141.50,317.5 v2.5 M141.50,477.5 v-2.5 M157.50,17.5 v2 M157.50,317.5 v-2 M157.50,317.5 v1.5 M157.50,477.5 v-1.5 M173.50,17.5 v4 M173.50,317.5 v-4 M173.50,317.5 v2.5 M173.50,477.5 v-2.5 M189.50,17.5 v2 M189.50,317.5 v-2 M189.50,317.5 v1.5 M189.50,477.5 v-1.5 M205.50,17.5 v8 M205.50,317.5 v-8 M205.50,317.5 v4.5 M205.50,477.5 v-4.5 M221.50,17.5 v2 M221.50,317.5 v-2 M221.50,317.5 v1.5 M221.50,477.5 v-1.5 M237.50,17.5 v4 M237.50,317.5 v-4 M237.50,317.5 v2.5 M237.50,477.5 v-2.5 M253.50,17.5 v2 M253.50,317.5 v-2 M253.50,317.5 v1.5 M253.50,477.5 v-1.5 M269.50,17.5 v4 M269.50,317.5 v-4 M269.50,317.5 v2.5 M269.50,477.5 v-2.5 M285.50,17.5 v2 M285.50,317.5 v-2 M285.50,317.5 v1.5 M285.50,477.5 v-1.5 M301.50,17.5 v4 M301.50,317.5 v-4 M301.50,317.5 v2.5 M301.50,477.5 v-2.5 M317.50,17.5 v2 M317.50,317.5 v-2 M317.50,317.5 v1.5 M317.50,477.5 v-1.5 M333.50,17.5 v4 M333.50,317.5 v-4 M333.50,317.5 v2.5 M333.50,477.5 v-2.5 M349.50,17.5 v2 M349.50,317.5 v-2 M349.50,317.5 v1.5 M349.50,477.5 v-1.5 M365.50,17.5 v8 M365.50,317.5 v-8 M365.50,317.5 v4.5 M365.50,477.5 v-4.5 M45.5,313.55 h5.5 M371.0,313.55 h-5.5 M45.5,309.97 h5.5 M371.0,309.97 h-5.5 M45.5,306.87 h5.5 M371.0,306.87 h-5.5 M45.5,304.14 h5.5 M371.0,304.14 h-5.5 M45.5,301.70 h11 M371.0,301.70 h-11 M45.5,285.62 h5.5 M371.0,285.62 h-5.5 M45.5,276.22 h5.5 M371.0,276.22 h-5.5 M45.5,269.55 h5.5 M371.0,269.55 h-5.5 M45.5,264.38 h5.5 M371.0,264.38 h-5.5 M45.5,260.15 h5.5 M371.0,260.15 h-5.5 M45.5,256.57 h5.5 M371.0,256.57 h-5.5 M45.5,253.47 h5.5 M371.0,253.47 h-5.5 M45.5,250.74 h5.5 M371.0,250.74 h-5.5 M45.5,248.30 h11 M371.0,248.30 h-11 M45.5,232.22 h5.5 M371.0,232.22 h-5.5 M45.5,222.82 h5.5 M371.0,222.82 h-5.5 M45.5,216.15 h5.5 M371.0,216.15 h-5.5 M45.5,210.98 h5.5 M371.0,210.98 h-5.5 M45.5,206.75 h5.5 M371.0,206.75 h-5.5 M45.5,203.17 h5.5 M371.0,203.17 h-5.5 M45.5,200.07 h5.5 M371.0,200.07 h-5.5 M45.5,197.34 h5.5 M371.0,197.34 h-5.5 M45.5,194.90 h11 M371.0,194.90 h-11 M45.5,178.82 h5.5 M371.0,178.82 h-5.5 M45.5,169.42 h5.5 M371.0,169.42 h-5.5 M45.5,162.75 h5.5 M371.0,162.75 h-5.5 M45.5,157.58 h5.5 M371.0,157.58 h-5.5 M45.5,153.35 h5.5 M371.0,153.35 h-5.5 M45.5,149.77 h5.5 M371.0,149.77 h-5.5 M45.5,146.67 h5.5 M371.0,146.67 h-5.5 M45.5,143.94 h5.5 M371.0,143.94 h-5.5 M45.5,141.50 h11 M371.0,141.50 h-11 M45.5,125.42 h5.5 M371.0,125.42 h-5.5 M45.5,116.02 h5.5 M371.0,116.02 h-5.5 M45.5,109.35 h5.5 M371.0,109.35 h-5.5 M45.5,104.18 h5.5 M371.0,104.18 h-5.5 M45.5,99.95 h5.5 M371.0,99.95 h-5.5 M45.5,96.37 h5.5 M371.0,96.37 h-5.5 M45.5,93.27 h5.5 M371.0,93.27 h-5.5 M45.5,90.54 h5.5 M371.0,90.54 h-5.5 M45.5,88.10 h11 M371.0,88.10 h-11 M45.5,72.02 h5.5 M371.0,72.02 h-5.5 M45.5,62.62 h5.5 M371.0,62.62 h-5.5 M45.5,55.95 h5.5 M371.0,55.95 h-5.5 M45.5,50.78 h5.5 M371.0,50.78 h-5.5 M45.5,46.55 h5.5 M371.0,46.55 h-5.5 M45.5,42.97 h5.5 M371.0,42.97 h-5.5 M45.5,39.87 h5.5 M371.0,39.87 h-5.5 M45.5,37.14 h5.5 M371.0,37.14 h-5.5 M45.5,34.70 h11 M371.0,34.70 h-11 M45.5,18.62 h5.5 M371.0,18.62 h-5.5 M45.5,458.49 h8 M371.0,458.49 h-8 M45.5,442.45 h5 M371.0,442.45 h-5 M45.5,428.88 h5 M371.0,428.88 h-5 M45.5,417.13 h5 M371.0,417.13 h-5 M45.5,406.77 h5 M371.0,406.77 h-5 M45.5,397.50 h8 M371.0,397.50 h-8 M45.5,389.11 h5 M371.0,389.11 h-5 M45.5,381.46 h5 M371.0,381.46 h-5 M45.5,374.42 h5 M371.0,374.42 h-5 M45.5,367.89 h5 M371.0,367.89 h-5 M45.5,361.82 h6.5 M371.0,361.82 h-6.5 M45.5,356.15 h5 M371.0,356.15 h-5 M45.5,350.81 h5 M371.0,350.81 h-5 M45.5,345.78 h5 M371.0,345.78 h-5 M45.5,341.02 h5 M371.0,341.02 h-5 M45.5,336.51 h8 M371.0,336.51 h-8 M45.5,332.22 h5 M371.0,332.22 h-5 M45.5,328.13 h5 M371.0,328.13 h-5 M45.5,324.21 h5 M371.0,324.21 h-5 M45.5,320.47 h5 M371.0,320.47 h-5" stroke="#000" stroke-width="1" fill="none"/>
<text x="51.2" y="14.1" font-size="12.1" text-anchor="start" fill="#000" font-family="Liberation Sans, sans-serif" >7000 GeV pp</text>
<text x="366.5" y="14.2" font-size="12.3" text-anchor="end" fill="#000" font-family="Liberation Sans, sans-serif" >Soft QCD</text>
<text x="129.8" y="43.1" font-size="12.15" fill="#000" font-family="Liberation Sans, sans-serif">Momentum fraction z<tspan font-size="9.8" dy="0.2">(track jets)</tspan></text>
<text x="39.6" y="39.60" font-size="10.4" text-anchor="end" fill="#000" font-family="Liberation Sans, sans-serif">10<tspan font-size="7.4" dy="-4.6">3</tspan></text>
<text x="39.6" y="93.00" font-size="10.4" text-anchor="end" fill="#000" font-family="Liberation Sans, sans-serif">10<tspan font-size="7.4" dy="-4.6">2</tspan></text>
<text x="40.3" y="146.40" font-size="11.3" text-anchor="end" fill="#000" font-family="Liberation Sans, sans-serif" >10</text>
<text x="40.3" y="199.80" font-size="11.3" text-anchor="end" fill="#000" font-family="Liberation Sans, sans-serif" >1</text>
<text x="40.2" y="253.50" font-size="10.4" text-anchor="end" fill="#000" font-family="Liberation Sans, sans-serif">10<tspan font-size="7.4" dy="-4.6">&#8722;1</tspan></text>
<text x="40.2" y="306.90" font-size="10.4" text-anchor="end" fill="#000" font-family="Liberation Sans, sans-serif">10<tspan font-size="7.4" dy="-4.6">&#8722;2</tspan></text>
<text x="38.9" y="340.71" font-size="11.5" text-anchor="end" fill="#000" font-family="Liberation Sans, sans-serif" >2</text>
<text x="374" y="340.71" font-size="11.5" text-anchor="start" fill="#000" font-family="Liberation Sans, sans-serif" >2</text>
<text x="38.9" y="401.70" font-size="11.5" text-anchor="end" fill="#000" font-family="Liberation Sans, sans-serif" >1</text>
<text x="374" y="401.70" font-size="11.5" text-anchor="start" fill="#000" font-family="Liberation Sans, sans-serif" >1</text>
<text x="38.9" y="462.69" font-size="11.5" text-anchor="end" fill="#000" font-family="Liberation Sans, sans-serif" >0.5</text>
<text x="374" y="462.69" font-size="11.5" text-anchor="start" fill="#000" font-family="Liberation Sans, sans-serif" >0.5</text>
<text x="45.5" y="489" font-size="11.5" text-anchor="middle" fill="#000" font-family="Liberation Sans, sans-serif" >0</text>
<text x="205.5" y="489" font-size="11.5" text-anchor="middle" fill="#000" font-family="Liberation Sans, sans-serif" >0.5</text>
<text x="365.5" y="489" font-size="11.5" text-anchor="middle" fill="#000" font-family="Liberation Sans, sans-serif" >1</text>
<text x="372.9" y="503.9" font-size="12.6" text-anchor="end" fill="#000" font-family="Liberation Sans, sans-serif" >Charged Particle z</text>
<text transform="translate(16.7,17.2) rotate(-90)" font-size="12.3" text-anchor="end" fill="#000" font-family="Liberation Sans, sans-serif">(1/Njet)dN/dz</text>
<text transform="translate(17.9,396.6) rotate(-90)" font-size="9.1" text-anchor="middle" fill="#000" font-family="Liberation Sans, sans-serif">Ratio to ATLAS</text>
<text transform="translate(380.2,18.5) rotate(-90)" font-size="9.43" text-anchor="end" fill="#888" font-family="Liberation Sans, sans-serif">Rivet 3.1.10, &#8805; 400k events</text>
<text transform="translate(380.2,171.6) rotate(-90)" font-size="9.42" text-anchor="end" fill="#888" font-family="Liberation Sans, sans-serif">mcplots.cern.ch [arXiv:1306.3436]</text>
<text x="168" y="302.7" font-size="8.05" text-anchor="start" fill="#999" font-family="Liberation Sans, sans-serif" >ATLAS_2011_I919017</text>
<rect x="73.70" y="221.20" width="5.6" height="5.6" fill="#000"/>
<line x1="63.8" y1="237.2" x2="88.5" y2="237.2" stroke="#aa5500" stroke-width="1.3" stroke-dasharray="3,1.6"/>
<circle cx="76.50" cy="237.20" r="2.55" fill="none" stroke="#aa5500" stroke-width="1.15"/>
<line x1="63.8" y1="250.2" x2="88.5" y2="250.2" stroke="#359a00" stroke-width="1.3" stroke-dasharray="3,1.6"/>
<rect x="74.00" y="247.70" width="5" height="5" fill="none" stroke="#359a00" stroke-width="1.1"/>
<line x1="64" y1="263.2" x2="89" y2="263.2" stroke="#0000ff" stroke-width="1.2" stroke-opacity="0.8"/>
<path d="M76.50,260.00 L79.60,265.80 L73.40,265.80Z" fill="#0000ff"/>
<line x1="64" y1="275.7" x2="89" y2="275.7" stroke="#ff0000" stroke-width="1.3" stroke-dasharray="1,1"/>
<path d="M76.50,272.30 L78.80,275.70 L76.50,279.10 L74.20,275.70Z" fill="#ff0000"/>
<text x="94.3" y="227.2" font-size="9.9" text-anchor="start" fill="#000" font-family="Liberation Sans, sans-serif" textLength="29.0" lengthAdjust="spacingAndGlyphs">ATLAS</text>
<text x="94.3" y="240.4" font-size="9.9" text-anchor="start" fill="#000" font-family="Liberation Sans, sans-serif" textLength="94.3" lengthAdjust="spacingAndGlyphs">Herwig++ 2.5.0 default</text>
<text x="94.3" y="253.4" font-size="9.9" text-anchor="start" fill="#000" font-family="Liberation Sans, sans-serif" textLength="83.4" lengthAdjust="spacingAndGlyphs">Herwig 7.2.1 default</text>
<text x="94.3" y="266.4" font-size="9.9" text-anchor="start" fill="#000" font-family="Liberation Sans, sans-serif" textLength="82.9" lengthAdjust="spacingAndGlyphs">Pythia 8.308 default</text>
<text x="94.3" y="279.4" font-size="9.9" text-anchor="start" fill="#000" font-family="Liberation Sans, sans-serif" textLength="84.5" lengthAdjust="spacingAndGlyphs">Sherpa 2.2.9 default</text>
</svg></body></html>
